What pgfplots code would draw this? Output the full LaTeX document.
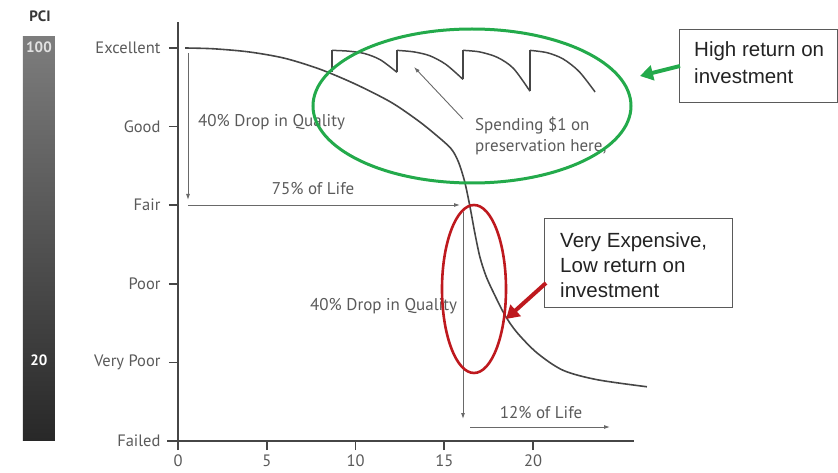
\documentclass[border=0pt]{standalone}
\usepackage{pgfplots}
\pgfplotsset{compat=1.18}
\usepackage{fontspec}
\setmainfont{PT Sans}
\newfontfamily\arialfont{Liberation Sans}
\usetikzlibrary{arrows.meta}
\definecolor{axgray}{RGB}{70,70,70}
\definecolor{txtgray}{RGB}{90,90,90}
\definecolor{arrgray}{RGB}{105,105,105}
\definecolor{roigreen}{RGB}{35,170,75}
\definecolor{roired}{RGB}{190,25,30}

\begin{document}
\begin{tikzpicture}
\begin{axis}[
  x=17.75pt, y=78.6pt,
  xmin=-0.6, xmax=25.7, ymin=-0.09, ymax=5.33,
  axis lines=middle,
  axis line style={axgray, line width=2.2pt, -},
  hide obscured x ticks=false, hide obscured y ticks=false,
  xtick={0,5,10,15,20},
  ytick={0,1,2,3,4,5},
  yticklabels={Failed,Very Poor,Poor,Fair,Good,Excellent},
  tick align=outside, major tick length=9pt,
  tick style={axgray, line width=1.6pt},
  every tick label/.append style={font=\fontsize{16.5}{19}\selectfont, text=txtgray},
  /pgf/number format/assume math mode=true,
  xticklabel style={yshift=-1pt},
  yticklabel style={xshift=-5pt},
  clip=false,
]
% main deterioration curve
\addplot[axgray, line width=1.6pt, smooth] coordinates {
(0.4,5.0)(2,4.99)(4,4.95)(6,4.87)(8,4.73)(10,4.54)(12,4.31)(13.5,4.08)(14.5,3.9)
(15.38,3.72)(15.8,3.55)(16.15,3.3)(16.45,2.98)(16.72,2.65)(17.01,2.34)(17.35,2.1)
(17.75,1.9)(18.42,1.6)(19.1,1.38)(20.23,1.12)(21.69,0.9)(23.61,0.78)(26.42,0.69)
};
% preservation sawtooth
\addplot[axgray, line width=1.5pt, smooth] coordinates {(8.68,4.97)(9.6,4.96)(10.5,4.93)(11.4,4.85)(12.34,4.69)};
\addplot[axgray, line width=1.5pt, smooth] coordinates {(12.34,4.97)(13.3,4.95)(14.2,4.9)(15.1,4.79)(16.06,4.6)};
\addplot[axgray, line width=1.5pt, smooth] coordinates {(16.06,4.97)(17,4.95)(18,4.88)(18.9,4.74)(19.83,4.45)};
\addplot[axgray, line width=1.5pt, smooth] coordinates {(19.83,4.97)(20.8,4.94)(21.7,4.86)(22.6,4.7)(23.5,4.44)};
\addplot[axgray, line width=1.5pt, unbounded coords=jump] coordinates {
(8.68,4.70)(8.68,4.97)(nan,nan)(12.34,4.69)(12.34,4.97)(nan,nan)
(16.06,4.6)(16.06,4.97)(nan,nan)(19.83,4.45)(19.83,4.97)
};
\coordinate (P) at (axis cs:-10.0282,5.6107);
\end{axis}

\begin{scope}[shift={(P)}, x=1pt, y=-1pt]
% PCI bar
\shade[top color={rgb,255:red,125;green,125;blue,125}, bottom color={rgb,255:red,40;green,40;blue,40}]
  (23,37) rectangle (55,440);
\node[font=\bfseries\fontsize{15}{17}\selectfont, text={rgb,255:red,55;green,55;blue,55}] at (40,16) {PCI};
\node[font=\bfseries\fontsize{15}{17}\selectfont, text={rgb,255:red,225;green,225;blue,225}] at (39,47) {100};
\node[font=\bfseries\fontsize{15}{17}\selectfont, text=white] at (39,360) {20};

% gray arrows
\draw[arrgray, line width=0.9pt, -{Latex[length=6pt,width=4pt]}] (188,53) -- (188,200);
\draw[arrgray, line width=0.9pt, -{Latex[length=6pt,width=4pt]}] (188,205) -- (460,205);
\draw[arrgray, line width=0.9pt, -{Latex[length=6pt,width=4pt]}] (463,212) -- (463,419);
\draw[arrgray, line width=0.9pt, -{Latex[length=6pt,width=4pt]}] (470,427) -- (610,427);
\draw[arrgray, line width=0.9pt, -{Latex[length=6pt,width=4pt]}] (463,119) -- (414,67);

% labels
\begin{scope}[every node/.style={font=\fontsize{17}{19}\selectfont, text=txtgray, inner sep=0pt}]
\node[anchor=west] at (198,122) {40\% Drop in Quality};
\node at (313,189) {75\% of Life};
\node[anchor=west] at (310,306) {40\% Drop in Quality};
\node at (541,413) {12\% of Life};
\node[anchor=west] at (475,126) {Spending \$1 on};
\node[anchor=west] at (475,147) {preservation here,};
\end{scope}

% ellipses
\draw[roigreen, line width=3pt] (472,106) ellipse [x radius=159, y radius=77];
\draw[roired, line width=2.6pt] (474,289) ellipse [x radius=32, y radius=84];

% callout boxes
\draw[fill=white, draw={rgb,255:red,90;green,90;blue,90}, line width=0.9pt] (679,29) rectangle (837,102);
\draw[fill=white, draw={rgb,255:red,90;green,90;blue,90}, line width=0.9pt] (544,218) rectangle (732,307);
\begin{scope}[every node/.style={font=\arialfont\fontsize{20.5}{24}\selectfont, text={rgb,255:red,35;green,35;blue,35}, inner sep=0pt, anchor=west}]
\node at (694,51) {High return on};
\node at (694,76) {investment};
\node at (560,242) {Very Expensive,};
\node at (560,266) {Low return on};
\node at (560,290) {investment};
\end{scope}

% callout arrows
\draw[roigreen, line width=4pt, -{Triangle[length=13pt,width=15pt]}] (680,66) -- (640,76);
\draw[roired, line width=4pt, -{Triangle[length=13pt,width=15pt]}] (546,283) -- (506,319);

\pgfresetboundingbox
\path[use as bounding box] (0,0) rectangle (838,472);
\end{scope}
\end{tikzpicture}
\end{document}
